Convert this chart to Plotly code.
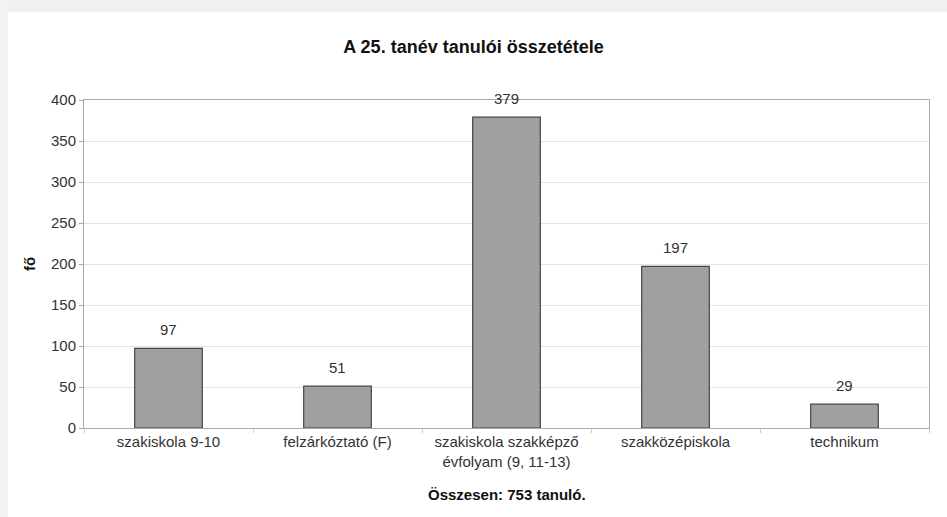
import plotly.graph_objects as go

categories = ["szakiskola 9-10", "felzárkóztató (F)", "szakiskola szakképző<br>évfolyam (9, 11-13)",
              "szakközépiskola", "technikum"]
values = [97, 51, 379, 197, 29]
y_ticks = [0, 50, 100, 150, 200, 250, 300, 350, 400]

W, H = 947, 517
L, R, T, B = 84, 18, 100, 89
pw, ph = W - L - R, H - T - B
FONT = "Liberation Sans, Arial, sans-serif"

def px_x(x):
    return (x - L) / pw

def px_y(y):
    return (H - B - y) / ph

fig = go.Figure(go.Bar(
    x=categories, y=values, width=0.4,
    marker=dict(color="#a0a0a0", line=dict(color="#444444", width=1.2)),
    hoverinfo="x+y",
))

value_labels = [
    dict(x=c, y=v, xref="x", yref="y", text=str(v), showarrow=False,
         yanchor="bottom", xanchor="center", yshift=8,
         font=dict(family=FONT, size=15, color="#333333"))
    for c, v in zip(categories, values)
]

fig.update_layout(
    width=W, height=H,
    margin=dict(l=L, r=R, t=T, b=B),
    paper_bgcolor="white", plot_bgcolor="white",
    font=dict(family=FONT, size=15, color="#333333"),
    showlegend=False,
    title=dict(text="<b>A 25. tanév tanulói összetétele</b>", x=0.5, xanchor="center",
               y=1 - 47 / H, yanchor="middle",
               font=dict(size=18, color="#111111")),
    shapes=[
        dict(type="rect", xref="paper", yref="paper", x0=px_x(0), x1=px_x(W), y0=px_y(0), y1=px_y(12),
             fillcolor="#f1f1f1", line=dict(width=0), layer="below"),
        dict(type="rect", xref="paper", yref="paper", x0=px_x(0), x1=px_x(8), y0=px_y(0), y1=px_y(H),
             fillcolor="#f3f3f3", line=dict(width=0), layer="below"),
    ],
    annotations=value_labels + [
        dict(text="<b>Összesen: 753 tanuló.</b>", xref="paper", yref="paper",
             x=px_x(507), y=px_y(494), xanchor="center", yanchor="middle",
             showarrow=False, font=dict(size=15, color="#111111")),
    ],
)

fig.update_yaxes(
    range=[0, 400], tickvals=y_ticks, showgrid=True, gridcolor="#e3e3e3", gridwidth=1,
    showline=True, linecolor="#aaaaaa", linewidth=1, mirror=True,
    ticks="outside", ticklen=4, tickcolor="#aaaaaa",
    title=dict(text="<b>fő</b>", font=dict(size=15, color="#111111"), standoff=11),
    zeroline=False,
)
fig.update_xaxes(
    showline=True, linecolor="#aaaaaa", linewidth=1, mirror=True,
    ticks="outside", ticklen=4, tickcolor="#cccccc", tickson="boundaries",
    tickangle=0,
)

fig.write_html("out.html", config={"displayModeBar": False},
               post_script="document.body.style.margin='0px';")
